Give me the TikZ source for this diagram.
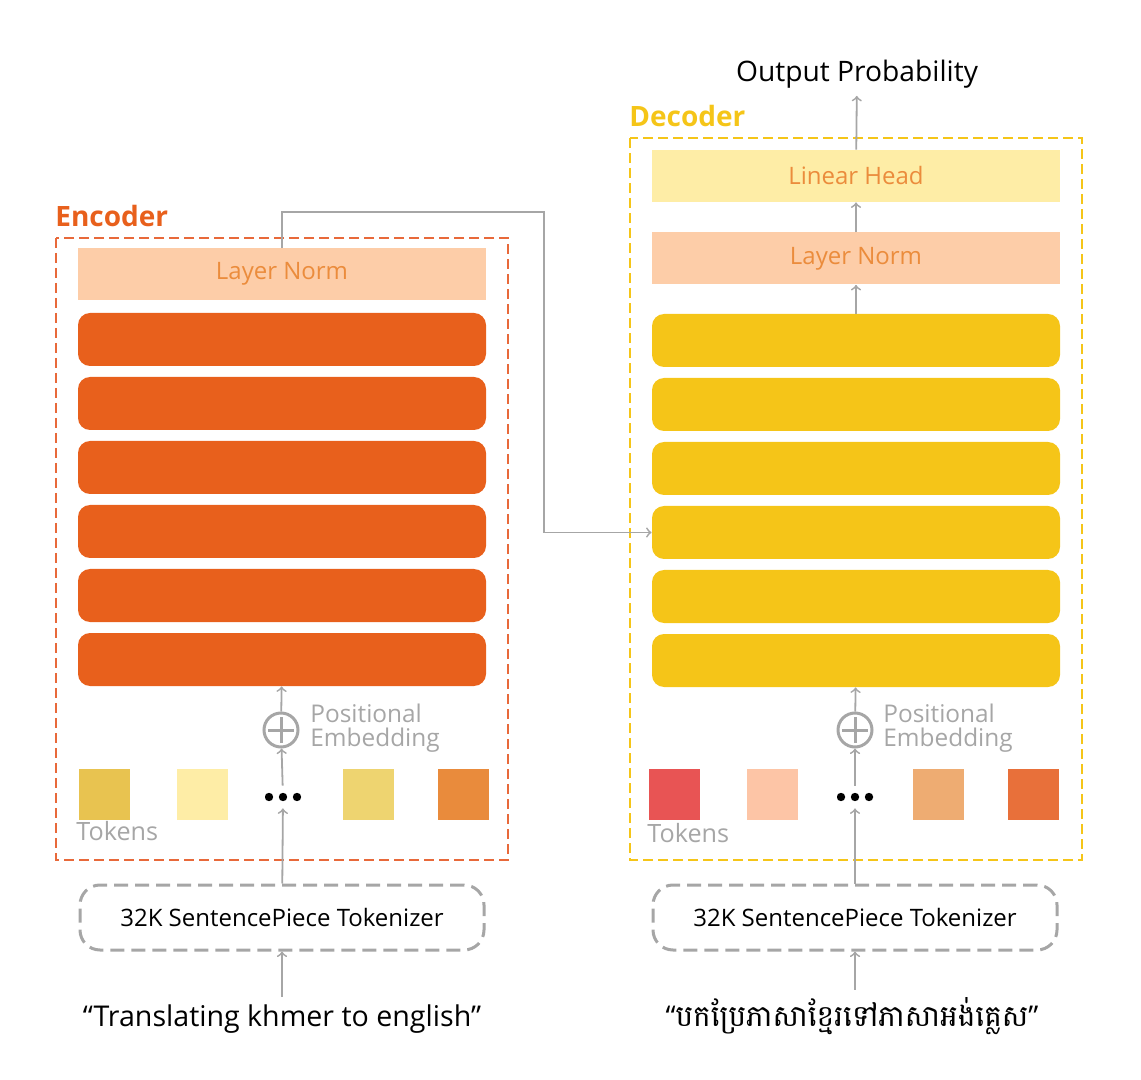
\documentclass[tikz,border=0pt]{standalone}
\usepackage{fontspec}
\setmainfont{Open Sans}
\newfontfamily\khmerfont[Script=Khmer]{Battambang}
\usetikzlibrary{calc}
\definecolor{encorange}{HTML}{E8601C}
\definecolor{encframe}{HTML}{E8693A}
\definecolor{decyellow}{HTML}{F5C518}
\definecolor{normfill}{HTML}{FDCDA8}
\definecolor{headfill}{HTML}{FEEDA6}
\definecolor{normtext}{HTML}{EB8C3C}
\definecolor{linegray}{HTML}{A6A6A6}
\definecolor{tokA}{HTML}{E8C350}
\definecolor{tokB}{HTML}{FEEDA6}
\definecolor{tokC}{HTML}{EED470}
\definecolor{tokD}{HTML}{E98B3C}
\definecolor{tokE}{HTML}{E85454}
\definecolor{tokF}{HTML}{FDC5A6}
\definecolor{tokG}{HTML}{EEAC72}
\definecolor{tokH}{HTML}{E8703A}
\tikzstyle{block} = [rectangle, rounded corners=6pt, minimum width=204pt, minimum height=26.5pt, inner sep=0pt]
\tikzstyle{enclayer} = [block, fill=encorange]
\tikzstyle{declayer} = [block, fill=decyellow]
\tikzstyle{normbox} = [rectangle, minimum width=204pt, minimum height=26pt, inner sep=0pt, text=normtext, font=\fontsize{12}{13}\selectfont]
\tikzstyle{token} = [rectangle, minimum size=25.5pt, inner sep=0pt]
\tikzstyle{arrow} = [line width=0.9pt, draw=linegray, ->, >=to]
\tikzset{
  plus/.style={
    circle, draw=linegray, line width=1.5pt, minimum size=17pt, inner sep=0pt,
    path picture={
      \draw[linegray, line width=1.5pt] ($(path picture bounding box.center)+(-6.5pt,0)$) -- ($(path picture bounding box.center)+(6.5pt,0)$);
      \draw[linegray, line width=1.5pt] ($(path picture bounding box.center)+(0,-6.5pt)$) -- ($(path picture bounding box.center)+(0,6.5pt)$);
    }
  },
  dots/.style={
    rectangle, minimum width=18pt, minimum height=11pt, inner sep=0pt,
    path picture={
      \fill[black] ($(path picture bounding box.center)+(-7pt,0)$) circle (2.1pt);
      \fill[black] (path picture bounding box.center) circle (2.1pt);
      \fill[black] ($(path picture bounding box.center)+(7pt,0)$) circle (2.1pt);
    }
  },
  tokenizer/.style={
    rectangle, rounded corners=10pt, draw=linegray, line width=1.5pt,
    dash pattern=on 7pt off 3.5pt, minimum width=202pt, minimum height=32.5pt,
    font=\fontsize{12}{13}\selectfont
  },
  label/.style={text=linegray, font=\fontsize{12.2}{12}\selectfont, inner sep=0pt}
}

\begin{document}
\begin{tikzpicture}[x=0.5pt, y=-0.5pt, node distance=32pt]
  \useasboundingbox (0,0) rectangle (1141,1080);

  % encoder
  \draw[encframe, line width=1pt, dash pattern=on 5pt off 2.5pt] (56,238) rectangle (508,860);
  \node (enctitle)[anchor=base west, inner sep=0pt, text=encorange, font=\fontsize{14}{14}\selectfont\bfseries] at (55,227) {Encoder};
  \node (encln)[normbox, fill=normfill] at (282,274) {Layer Norm};
  \node (e1)[enclayer] at (282,339.5) {};
  \node (e2)[enclayer, below of=e1] {};
  \node (e3)[enclayer, below of=e2] {};
  \node (e4)[enclayer, below of=e3] {};
  \node (e5)[enclayer, below of=e4] {};
  \node (e6)[enclayer, below of=e5] {};
  \node (encplus)[plus] at (281,730) {};
  \node (encpos)[label, anchor=west, align=left] at (310,728) {Positional\\Embedding};
  \node (et1)[token, fill=tokA] at (104,794) {};
  \node (et2)[token, fill=tokB] at (202,794) {};
  \node (encdots)[dots] at (283,797) {};
  \node (et3)[token, fill=tokC] at (368,794) {};
  \node (et4)[token, fill=tokD] at (463.5,794) {};
  \node (enctok)[label, anchor=west, font=\fontsize{12.6}{13}\selectfont] at (76,831) {Tokens};
  \node (enctkz)[tokenizer] at (282,917.5) {32K SentencePiece Tokenizer};
  \node (encin)[anchor=base, font=\fontsize{14.3}{15}\selectfont] at (282,1026) {“Translating khmer to english”};

  % decoder
  \draw[decyellow, line width=1pt, dash pattern=on 5pt off 2.5pt] (630,138) rectangle (1082,860);
  \node (dectitle)[anchor=base west, inner sep=0pt, text=decyellow, font=\fontsize{14}{14}\selectfont\bfseries] at (629,127) {Decoder};
  \node (outprob)[anchor=base, font=\fontsize{14.1}{15}\selectfont] at (857,82) {Output Probability};
  \node (head)[normbox, fill=headfill] at (856,176) {Linear Head};
  \node (decln)[normbox, fill=normfill] at (856,258.5) {Layer Norm};
  \node (d1)[declayer] at (856,340.5) {};
  \node (d2)[declayer, below of=d1] {};
  \node (d3)[declayer, below of=d2] {};
  \node (d4)[declayer, below of=d3] {};
  \node (d5)[declayer, below of=d4] {};
  \node (d6)[declayer, below of=d5] {};
  \node (decplus)[plus] at (855,730) {};
  \node (decpos)[label, anchor=west, align=left] at (883,728) {Positional\\Embedding};
  \node (dt1)[token, fill=tokE] at (674.5,794) {};
  \node (dt2)[token, fill=tokF] at (772.5,794) {};
  \node (decdots)[dots] at (855,797) {};
  \node (dt3)[token, fill=tokG] at (938.5,794) {};
  \node (dt4)[token, fill=tokH] at (1033.5,794) {};
  \node (dectok)[label, anchor=west, font=\fontsize{12.6}{13}\selectfont] at (647,833) {Tokens};
  \node (dectkz)[tokenizer] at (855,917.5) {32K SentencePiece Tokenizer};
  \node (decin)[anchor=base, font=\fontsize{14.3}{15}\selectfont] at (852,1026) {“{\khmerfont\fontsize{14.8}{15}\selectfont បកប្រែភាសាខ្មែរទៅភាសាអង់គ្លេស}”};

  % connectors
  \draw[arrow] (encin) -- (enctkz);
  \draw[arrow] (enctkz) -- (encdots);
  \draw[arrow] (encdots) -- (encplus);
  \draw[arrow] (encplus) -- (e6);
  \draw[arrow] (decin.north -| dectkz) -- (dectkz);
  \draw[arrow] (dectkz) -- (decdots);
  \draw[arrow] (decdots) -- (decplus);
  \draw[arrow] (decplus) -- (d6);
  \draw[arrow] (d1) -- (decln);
  \draw[arrow] (decln) -- (head);
  \draw[arrow] (head) -- (outprob);
  \coordinate (cross) at (544,212);
  \draw[arrow] (encln.north) |- (cross) |- (d4.west);

\end{tikzpicture}
\end{document}
